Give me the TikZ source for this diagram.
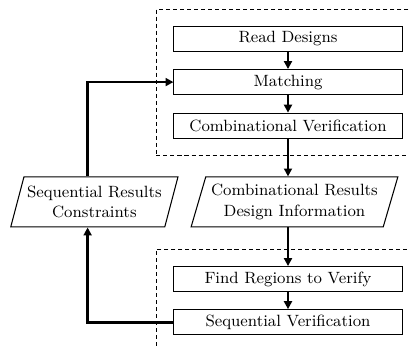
\documentclass[tikz,border=0pt]{standalone}
\usetikzlibrary{arrows.meta,positioning,shapes.geometric,fit}

\begin{document}
\begin{tikzpicture}[x=0.57pt,y=-0.57pt,>={Triangle[length=4.5pt,width=4.5pt]},every node/.append style={align=center,font=\fontsize{9.3}{11.5}\selectfont},proc/.style={draw, line width=0.6pt, minimum width=130pt, minimum height=14.25pt, inner sep=1pt},io/.style={draw, line width=0.6pt, trapezium, trapezium left angle=70, trapezium right angle=110, trapezium stretches=true, minimum height=28.5pt, inner sep=1pt},grp/.style={draw, dash pattern=on 2.3pt off 1.7pt, line width=0.5pt, inner sep=9.7pt},flow/.style={line width=1.15pt},bigflow/.style={line width=1.6pt},]
    \useasboundingbox (0,0) rectangle (409,348);
    \node [proc] (Read) at (288,39) {Read Designs};
    \node [proc, below=9.7pt of Read] (Match) {Matching};
    \node [proc, below=10pt of Match] (CombV) {Combinational Verification};
    \node [io, below=21.5pt of CombV, xshift=3.7pt, minimum width=118pt] (CombR) {Combinational Results\\Design Information};
    \node [io, left=14.8pt of CombR, minimum width=96.3pt] (SeqR) {Sequential Results\\Constraints};
    \node [proc, below=22pt of CombR, xshift=-3.7pt] (Find) {Find Regions to Verify};
    \node [proc, below=9.7pt of Find] (SeqV) {Sequential Verification};
    \node [grp, fit=(Read) (CombV)] (topgrp) {};
    \node [grp, fit=(Find) (SeqV)] (botgrp) {};
    \draw [->, flow] (Read) -- (Match);
    \draw [->, flow] (Match) -- (CombV);
    \draw [->, bigflow] (CombV) -- (CombV.south |- CombR.north);
    \draw [->, bigflow] (CombR.south -| Find.north) -- (Find);
    \draw [->, flow] (Find) -- (SeqV);
    \draw [->, bigflow] (SeqV.west) -| (SeqR.bottom side);
    \draw [->, bigflow] (SeqR.bottom side |- SeqR.north) |- (Match.west);
\end{tikzpicture}
\end{document}
